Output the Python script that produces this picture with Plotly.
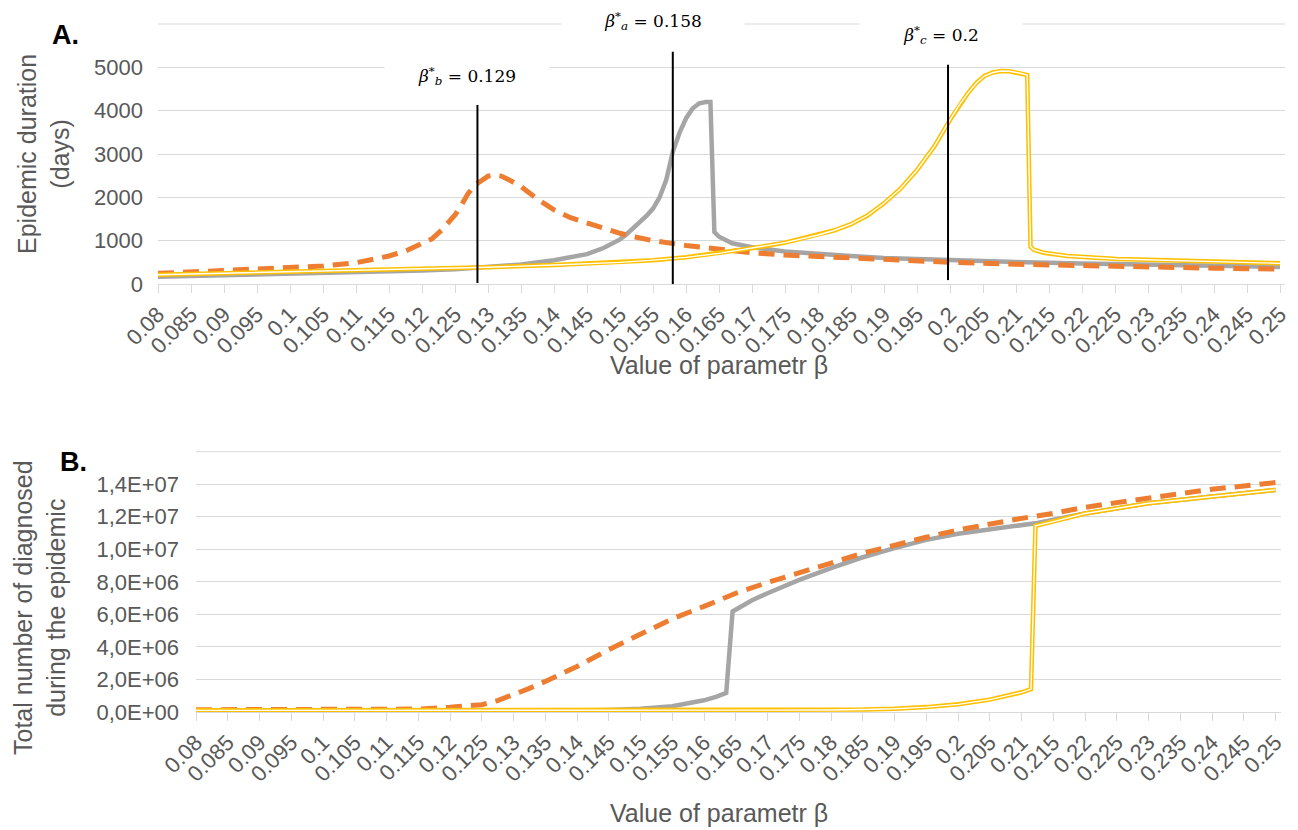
import plotly.graph_objects as go

# page body has an 8px default margin: draw a 1290x822 figure and map reference pixels with that offset
OFF = 8
W, H = 1298 - OFF, 830 - OFF

# ---------------- data ----------------
tick_betas = [round(0.08 + 0.005 * i, 3) for i in range(35)]
tick_labels = ["0.08", "0.085", "0.09", "0.095", "0.1", "0.105", "0.11", "0.115", "0.12", "0.125",
               "0.13", "0.135", "0.14", "0.145", "0.15", "0.155", "0.16", "0.165", "0.17", "0.175",
               "0.18", "0.185", "0.19", "0.195", "0.2", "0.205", "0.21", "0.215", "0.22", "0.225",
               "0.23", "0.235", "0.24", "0.245", "0.25"]

# Panel A: epidemic duration (days)
dur_a_x = [0.08, 0.09, 0.1, 0.11, 0.12, 0.125, 0.13, 0.135, 0.14, 0.1425, 0.145, 0.1475, 0.15,
           0.151, 0.152, 0.153, 0.154, 0.155, 0.156, 0.157, 0.158, 0.159, 0.16, 0.161, 0.162,
           0.163, 0.1637, 0.1643, 0.165, 0.167, 0.17, 0.175, 0.18, 0.185, 0.19,
           0.2, 0.21, 0.22, 0.23, 0.24, 0.25]
dur_a_y = [165, 195, 230, 270, 310, 340, 385, 450, 550, 610, 690, 830, 1030,
           1150, 1280, 1420, 1570, 1740, 2000, 2400, 3050, 3480, 3820, 4050, 4170,
           4200, 4200, 1200, 1090, 940, 850, 750, 690, 645, 600,
           545, 505, 475, 445, 420, 395]

dur_b_x = [0.08, 0.085, 0.09, 0.095, 0.1, 0.105, 0.11, 0.115, 0.1175, 0.12, 0.1215, 0.123, 0.124,
           0.125, 0.126, 0.127, 0.128, 0.129, 0.13, 0.131, 0.132, 0.133, 0.135, 0.1375, 0.14,
           0.1425, 0.145, 0.1475, 0.15, 0.1525, 0.155, 0.16, 0.165, 0.17, 0.175, 0.18, 0.185,
           0.19, 0.2, 0.21, 0.22, 0.23, 0.24, 0.25]
dur_b_y = [246, 277, 308, 338, 377, 415, 492, 646, 760, 923, 1040, 1246, 1400,
           1592, 1830, 2092, 2280, 2400, 2490, 2515, 2490, 2420, 2250, 1960, 1710,
           1530, 1400, 1280, 1170, 1080, 1000, 890, 800, 723, 669, 630, 592,
           560, 500, 455, 420, 390, 365, 345]

dur_c_x = [0.08, 0.09, 0.1, 0.11, 0.12, 0.13, 0.14, 0.15, 0.155, 0.16, 0.165, 0.17, 0.175, 0.18,
           0.1825, 0.185, 0.1875, 0.19, 0.1925, 0.195, 0.1976, 0.2, 0.2015, 0.2027, 0.204, 0.2052,
           0.2065, 0.2077, 0.209, 0.2105, 0.2117, 0.2122, 0.2127, 0.2142, 0.216, 0.2178, 0.2253,
           0.2355, 0.25]
dur_c_y = [215, 250, 285, 310, 338, 385, 438, 500, 550, 615, 708, 823, 954, 1131,
           1240, 1380, 1580, 1862, 2200, 2631, 3169, 3785, 4150, 4400, 4640, 4800,
           4880, 4915, 4910, 4870, 4820, 862, 790, 723, 680, 646, 577,
           531, 477]

# Panel B: total number of diagnosed during the epidemic
tot_a_x = [0.08, 0.1, 0.12, 0.13, 0.14, 0.145, 0.15, 0.155, 0.1575, 0.16, 0.162, 0.1635, 0.1645,
           0.1675, 0.17, 0.175, 0.18, 0.185, 0.19, 0.195, 0.2, 0.205, 0.21, 0.2125, 0.22, 0.23,
           0.24, 0.25]
tot_a_y = [0.05e6, 0.05e6, 0.06e6, 0.07e6, 0.09e6, 0.13e6, 0.2e6, 0.35e6, 0.5e6, 0.72e6, 0.95e6,
           1.17e6, 6.18e6, 6.85e6, 7.3e6, 8.12e6, 8.84e6, 9.51e6, 10.07e6, 10.58e6, 10.95e6,
           11.23e6, 11.5e6, 11.62e6, 12.2e6, 12.83e6, 13.24e6, 13.65e6]

tot_b_x = [0.08, 0.09, 0.1, 0.11, 0.115, 0.12, 0.125, 0.1275, 0.13, 0.1325, 0.135, 0.14, 0.145,
           0.15, 0.155, 0.16, 0.165, 0.17, 0.175, 0.18, 0.185, 0.19, 0.195, 0.2, 0.205, 0.21,
           0.215, 0.22, 0.225, 0.23, 0.235, 0.24, 0.245, 0.25]
tot_b_y = [0.14e6, 0.14e6, 0.14e6, 0.16e6, 0.18e6, 0.29e6, 0.45e6, 0.7e6, 1.06e6, 1.45e6, 1.88e6,
           2.8e6, 3.83e6, 4.75e6, 5.73e6, 6.49e6, 7.3e6, 7.96e6, 8.53e6, 9.15e6, 9.76e6,
           10.27e6, 10.74e6, 11.19e6, 11.56e6, 11.9e6, 12.21e6, 12.58e6, 12.87e6, 13.14e6,
           13.44e6, 13.69e6, 13.89e6, 14.1e6]

tot_c_x = [0.08, 0.1, 0.12, 0.14, 0.16, 0.18, 0.185, 0.19, 0.195, 0.2, 0.205, 0.21, 0.2115, 0.2122,
           0.215, 0.22, 0.23, 0.24, 0.25]
tot_c_y = [0.1e6, 0.1e6, 0.1e6, 0.1e6, 0.1e6, 0.12e6, 0.15e6, 0.2e6, 0.3e6, 0.47e6, 0.76e6, 1.21e6,
           1.41e6, 11.44e6, 11.7e6, 12.2e6, 12.83e6, 13.24e6, 13.65e6]

dur_ticks = [0, 1000, 2000, 3000, 4000, 5000, 6000]
dur_ticktext = ["0", "1000", "2000", "3000", "4000", "5000", ""]
tot_ticks = [0, 2e6, 4e6, 6e6, 8e6, 10e6, 12e6, 14e6, 16e6]
tot_ticktext = ["0,0E+00", "2,0E+06", "4,0E+06", "6,0E+06", "8,0E+06", "1,0E+07", "1,2E+07", "1,4E+07", ""]

critical = [("b", "0.129", 0.1284, 4130, 25), ("a", "0.158", 0.158, 5360, -60), ("c", "0.2", 0.1997, 5060, 90)]

# ---------------- styling ----------------
GRAY, ORANGE, GOLD = "#A5A5A5", "#ED7D31", "#FFC000"
TXT = "#595959"
GRID = "#D9D9D9"
FONT = "Liberation Sans, Arial, sans-serif"


def px(x):
    return (x - OFF) / W


def py(y):
    return 1 - (y - OFF) / H


fig = go.Figure()


def add_series(xa, ya, xs_a, ys_a, xs_b, ys_b, xs_c, ys_c):
    fig.add_trace(go.Scatter(x=xs_a, y=ys_a, mode="lines", xaxis=xa, yaxis=ya,
                             line=dict(color=GRAY, width=4.5), showlegend=False, hoverinfo="skip"))
    fig.add_trace(go.Scatter(x=xs_b, y=ys_b, mode="lines", xaxis=xa, yaxis=ya,
                             line=dict(color=ORANGE, width=5, dash="16px,9px"), showlegend=False,
                             hoverinfo="skip"))
    fig.add_trace(go.Scatter(x=xs_c, y=ys_c, mode="lines", xaxis=xa, yaxis=ya,
                             line=dict(color=GOLD, width=4.5), showlegend=False, hoverinfo="skip"))
    fig.add_trace(go.Scatter(x=xs_c, y=ys_c, mode="lines", xaxis=xa, yaxis=ya,
                             line=dict(color="white", width=1.4), showlegend=False, hoverinfo="skip"))


add_series("x", "y", dur_a_x, dur_a_y, dur_b_x, dur_b_y, dur_c_x, dur_c_y)
add_series("x2", "y2", tot_a_x, tot_a_y, tot_b_x, tot_b_y, tot_c_x, tot_c_y)

xcommon = dict(tickmode="array", tickvals=tick_betas, ticktext=tick_labels, tickangle=-45,
               ticks="outside", ticklen=8, tickcolor=GRID, showline=True, linecolor=GRID,
               linewidth=1, showgrid=False, zeroline=False, automargin=False,
               tickfont=dict(family=FONT, size=22, color=TXT))
ycommon = dict(tickmode="array", showgrid=True, gridcolor=GRID, gridwidth=1, zeroline=False,
               showline=False, ticks="", automargin=False,
               tickfont=dict(family=FONT, size=22, color=TXT))

# top: 0.08 at px 158, 6600 px/unit ; bottom: 0.08 at px 196, 6350 px/unit
TOP_XMAX, BOT_XMAX = 0.2508, 0.2509
top_l, top_r = 158, 158 + (TOP_XMAX - 0.08) * 6600
bot_l, bot_r = 196, 196 + (BOT_XMAX - 0.08) * 6350

fig.update_layout(
    width=W, height=H, autosize=False,
    margin=dict(l=0, r=0, t=0, b=0, pad=0),
    paper_bgcolor="white", plot_bgcolor="white",
    xaxis=dict(domain=[px(top_l), px(top_r)], range=[0.08, TOP_XMAX], anchor="y", **xcommon),
    yaxis=dict(domain=[py(284), py(23)], range=[0, 6023], anchor="x", tickvals=dur_ticks,
               ticktext=dur_ticktext, ticklabelstandoff=14, **ycommon),
    xaxis2=dict(domain=[px(bot_l), px(bot_r)], range=[0.08, BOT_XMAX], anchor="y2", **xcommon),
    yaxis2=dict(domain=[py(712), py(450.7)], range=[0, 16.06e6], anchor="x2", tickvals=tot_ticks,
                ticktext=tot_ticktext, ticklabelstandoff=16, **ycommon),
)

shapes = [
    # top (unlabelled) gridlines, drawn explicitly so they always show
    dict(type="line", xref="x", yref="y", x0=0.08, x1=TOP_XMAX, y0=dur_ticks[-1], y1=dur_ticks[-1],
         line=dict(color=GRID, width=1), layer="below"),
    dict(type="line", xref="x2", yref="y2", x0=0.08, x1=BOT_XMAX, y0=tot_ticks[-1], y1=tot_ticks[-1],
         line=dict(color=GRID, width=1), layer="below"),
]
for name, val, xpos, ytop, ybot in critical:
    shapes.append(dict(type="line", xref="x", yref="y", x0=xpos, x1=xpos, y0=ybot, y1=ytop,
                       line=dict(color="black", width=2), layer="above"))
fig.update_layout(shapes=shapes)

ann = []
# panel letters
ann.append(dict(text="<b>A.</b>", x=px(50), y=py(35), xref="paper", yref="paper", xanchor="left",
                yanchor="middle", showarrow=False, font=dict(family=FONT, size=27, color="black")))
ann.append(dict(text="<b>B.</b>", x=px(58), y=py(462), xref="paper", yref="paper", xanchor="left",
                yanchor="middle", showarrow=False, font=dict(family=FONT, size=27, color="black")))
# axis titles
ann.append(dict(text="Epidemic duration<br>(days)", x=px(43), y=py(154), xref="paper", yref="paper",
                xanchor="center", yanchor="middle", textangle=-90, showarrow=False,
                font=dict(family=FONT, size=25, color=TXT)))
ann.append(dict(text="Total number of diagnosed<br>during the epidemic", x=px(39), y=py(608),
                xref="paper", yref="paper", xanchor="center", yanchor="middle", textangle=-90,
                showarrow=False, font=dict(family=FONT, size=25, color=TXT)))
ann.append(dict(text="Value of parametr β", x=px(719), y=py(365), xref="paper", yref="paper",
                xanchor="center", yanchor="middle", showarrow=False,
                font=dict(family=FONT, size=25, color=TXT)))
ann.append(dict(text="Value of parametr β", x=px(719), y=py(813), xref="paper", yref="paper",
                xanchor="center", yanchor="middle", showarrow=False,
                font=dict(family=FONT, size=25, color=TXT)))
# critical beta labels (white boxes break the gridlines)
label_pos = {"b": (467, 76, 162), "a": (653, 21, 180), "c": (941, 35, 160)}
for name, val, xpos, ytop, ybot in critical:
    cx, cy, bw = label_pos[name]
    ann.append(dict(text=f"<i>β</i><sup>*</sup><sub><i>{name}</i></sub> = {val}", x=px(cx), y=py(cy),
                    xref="paper", yref="paper", xanchor="center", yanchor="middle",
                    showarrow=False, bgcolor="white", width=bw, height=30,
                    font=dict(family="DejaVu Serif, serif", size=17, color="black")))
fig.update_layout(annotations=ann)

fig.write_html("out.html")
